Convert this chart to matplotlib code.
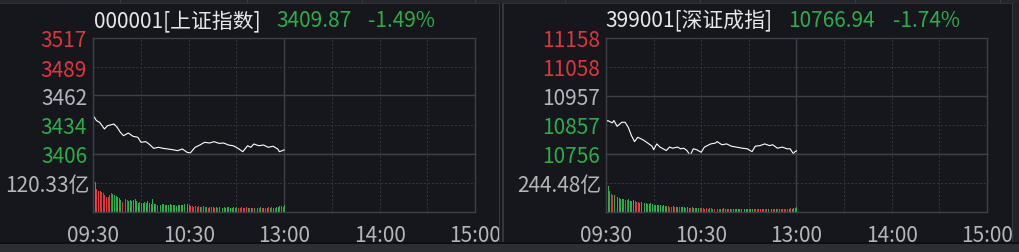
import numpy as np
import matplotlib.pyplot as plt
from matplotlib.patches import Rectangle

plt.rcParams['font.family'] = ['Noto Sans CJK SC', 'DejaVu Sans']

# ---- data ----
time_ticks = [0, 60, 120, 180, 240]
time_labels = ['09:30', '10:30', '13:00', '14:00', '15:00']

sh_name, sh_last, sh_pct = '000001[上证指数]', '3409.87', '-1.49%'
sh_ticks = [3517, 3489, 3462, 3434, 3406]
sh_minutes = [0, 2, 4, 7, 9, 13, 15, 17, 19, 22, 25, 28, 30, 33, 35, 38, 41, 44, 47, 50,
              53, 56, 59, 61, 64, 67, 70, 73, 76, 79, 82, 85, 88, 91, 94, 97, 99, 101, 104,
              107, 110, 113, 116, 117, 120]
sh_prices = [3442.7, 3437.9, 3436.3, 3429.9, 3433.1, 3434.7, 3431.5, 3426.8, 3423.5, 3426.1,
             3422.9, 3422.0, 3417.2, 3417.8, 3415.6, 3411.4, 3412.4, 3411.4, 3410.8, 3410.1,
             3409.2, 3410.8, 3407.6, 3407.0, 3412.4, 3414.6, 3417.2, 3416.5, 3417.8, 3416.2,
             3416.5, 3414.6, 3413.9, 3411.4, 3408.2, 3413.9, 3412.4, 3415.6, 3413.9, 3414.6,
             3412.4, 3413.4, 3410.8, 3408.2, 3409.87]
sh_vol_mid, sh_vol_label = 120.33, '120.33亿'
sh_vol = [238,
          126, 95, 88, 86, 84, 78, 72, 64, 61, 72,
          79, 74, 71, 68, 62, 57, 48, 43, 56, 52,
          49, 47, 49, 45, 51, 56, 47, 39, 42, 38,
          36, 40, 37, 44, 38, 35, 52, 34, 33, 31,
          33, 30, 34, 32, 29, 31, 28, 33, 30, 27,
          29, 26, 30, 28, 27, 31, 33, 30, 32, 28,
          26, 24, 22, 25, 21, 23, 20, 22, 24, 19,
          21, 18, 20, 22, 19, 17, 20, 18, 21, 19,
          18, 20, 17, 19, 21, 18, 16, 19, 17, 20,
          18, 17, 19, 16, 18, 20, 17, 15, 18, 16,
          17, 15, 18, 16, 19, 17, 15, 18, 16, 20,
          17, 19, 16, 18, 21, 19, 24, 26, 22, 28]
sh_vol_dir = ('gg' 'rrrrrrrrrr' 'gggggg' 'rrrr' 'gggggggggggggggggg' 'rr'
              'ggggggggggggggggggg' 'rrrrr' 'rgrgrgrgrgrgr' 'gggggggggggg' 'rrrrr'
              'rgrgrgrgrgrgrgrgrgrg' 'ggggg')

sz_name, sz_last, sz_pct = '399001[深证成指]', '10766.94', '-1.74%'
sz_ticks = [11158, 11058, 10957, 10857, 10756]
sz_minutes = [0, 1, 4, 5, 7, 10, 12, 14, 16, 18, 20, 23, 25, 27, 29, 30, 32, 34, 36, 38,
              40, 42, 45, 47, 49, 51, 53, 55, 57, 60, 62, 66, 69, 70, 73, 76, 79, 82, 86,
              89, 92, 94, 97, 100, 103, 105, 108, 111, 114, 116, 118, 119, 120]
sz_prices = [10866, 10872, 10864, 10872, 10852, 10866, 10866, 10849, 10820, 10799,
             10814, 10806, 10799, 10791, 10783, 10771, 10791, 10780, 10774, 10768,
             10780, 10776, 10780, 10774, 10776, 10768, 10751, 10774, 10771, 10762,
             10780, 10791, 10794, 10799, 10788, 10791, 10783, 10780, 10776, 10774,
             10764, 10783, 10785, 10791, 10785, 10788, 10776, 10780, 10774, 10774,
             10757, 10764, 10766.94]
sz_vol_mid, sz_vol_label = 244.48, '244.48亿'
sz_vol = [488,
          219, 180, 154, 146, 140, 132, 126, 118, 112, 108,
          112, 98, 104, 112, 96, 90, 98, 92, 84, 88,
          80, 84, 76, 72, 78, 70, 66, 72, 64, 60,
          62, 58, 55, 60, 52, 56, 50, 48, 52, 46,
          44, 48, 42, 45, 40, 43, 38, 41, 39, 36,
          40, 37, 34, 38, 35, 33, 36, 31, 34, 30,
          32, 29, 31, 28, 30, 33, 29, 27, 30, 28,
          26, 29, 27, 30, 28, 25, 27, 29, 26, 28,
          27, 25, 28, 26, 29, 27, 24, 26, 28, 25,
          27, 29, 26, 24, 27, 25, 28, 26, 23, 27,
          25, 28, 26, 24, 27, 29, 25, 27, 24, 26,
          28, 25, 27, 29, 26, 30, 28, 32, 36, 40]
sz_vol_dir = ('ggg' 'rr' 'ggggggg' 'rr' 'gggg' 'rrr' 'gggggggggggggggggg' 'rrr'
              'grggrgggrggrgg' 'gggrrrr' 'rgrrgrgrrgrgggrgrg' 'gggggrgggggg'
              'rrrrrrrr' 'rgrgrrgrgr' 'rrrrgr' 'gggg')

# ---- style ----
BG = '#15171c'
FRAME = '#3d4047'
GRID = '#353840'
RED = '#e0353c'
GREEN = '#2aae4a'
GREY = '#b4b6ba'
WHITE = '#e8e8e8'
W, H = 1020, 253
FS = 15

fig = plt.figure(figsize=(W / 100, H / 100), dpi=100, facecolor=BG)


def px_axes(x0, x1, ytop, ybot):
    return fig.add_axes([x0 / W, 1 - ybot / H, (x1 - x0) / W, (ybot - ytop) / H])


def panel(x0, x1, name, last, pct, name_x, last_x, pct_x,
          ticks, minutes, prices, vol, vol_dir, vol_mid, vol_label):
    axp = px_axes(x0, x1, 39, 155)
    axv = px_axes(x0, x1, 155, 213)
    for ax in (axp, axv):
        ax.set_facecolor(BG)
        ax.set_xlim(0, 240)
        for s in ax.spines.values():
            s.set_color(FRAME)
            s.set_linewidth(1)
        for t in [30, 60, 90, 150, 180, 210]:
            ax.axvline(t, color=GRID, lw=0.7, ls=(0, (2, 2)), zorder=0)
        ax.axvline(120, color=FRAME, lw=1, zorder=0)

    axp.set_ylim(ticks[-1], ticks[0])
    axp.axhline(ticks[1], color=GRID, lw=0.7, ls=(0, (2, 2)), zorder=0)
    axp.axhline(ticks[3], color=GRID, lw=0.7, ls=(0, (2, 2)), zorder=0)
    axp.axhline(ticks[2], color=FRAME, lw=1, zorder=0)
    axp.plot(minutes, prices, color='white', lw=0.8)
    axp.set_xticks([])
    axp.set_yticks(ticks)
    axp.set_yticklabels([str(t) for t in ticks])
    axp.tick_params(axis='y', length=0, pad=4.5, labelsize=FS)
    for lbl, c in zip(axp.get_yticklabels(), [RED, RED, GREY, GREEN, GREEN]):
        lbl.set_color(c)

    cmap = {'r': RED, 'g': GREEN}
    axv.set_ylim(0, 2 * vol_mid)
    axv.axhline(vol_mid, color=GRID, lw=0.7, ls=(0, (2, 2)), zorder=0)
    axv.bar(np.arange(len(vol)), vol, width=0.6, color=[cmap[d] for d in vol_dir],
            align='edge', zorder=2)
    axv.set_yticks([vol_mid])
    axv.set_yticklabels([vol_label])
    axv.set_xticks(time_ticks)
    axv.set_xticklabels(time_labels)
    axv.tick_params(axis='y', length=0, pad=3, labelsize=FS, labelcolor=GREY)
    axv.tick_params(axis='x', length=0, pad=9, labelsize=FS, labelcolor=GREY)

    ty = 1 - 21 / H
    fig.text(name_x / W, ty, name, color=WHITE, fontsize=FS, va='center')
    fig.text(last_x / W, ty, last, color=GREEN, fontsize=FS, va='center')
    fig.text(pct_x / W, ty, pct, color=GREEN, fontsize=FS, va='center')


panel(93.3, 475, sh_name, sh_last, sh_pct, 94, 276, 368,
      sh_ticks, sh_minutes, sh_prices, sh_vol, sh_vol_dir, sh_vol_mid, sh_vol_label)
panel(606, 987, sz_name, sz_last, sz_pct, 605, 788, 893,
      sz_ticks, sz_minutes, sz_prices, sz_vol, sz_vol_dir, sz_vol_mid, sz_vol_label)

# window chrome: top strip, centre divider, right edge, bottom band
def chrome(x0, y0, x1, y1, color):
    fig.patches.append(Rectangle((x0 / W, 1 - y1 / H), (x1 - x0) / W, (y1 - y0) / H,
                                 transform=fig.transFigure, color=color, zorder=5, lw=0))

chrome(0, 0, W, 4, '#24262b')
chrome(0, 4, W, 5, '#303238')
for xs in [120, 247, 362, 475, 565, 700, 855, 1000]:
    chrome(xs, 0, xs + 1, 4, '#3a3c42')
chrome(499, 4, 504, 244, BG)
chrome(499, 4, 500.5, 244, '#34363c')
chrome(502.5, 4, 504, 244, '#34363c')
chrome(1012, 4, 1013.5, 244, '#34363c')
chrome(1013.5, 4, W, 244, '#202227')
chrome(0, 243, W, 244.5, '#0e0f12')
chrome(0, 244.5, W, H, '#2c2e33')

fig.savefig('out.png', dpi=100, facecolor=BG)
